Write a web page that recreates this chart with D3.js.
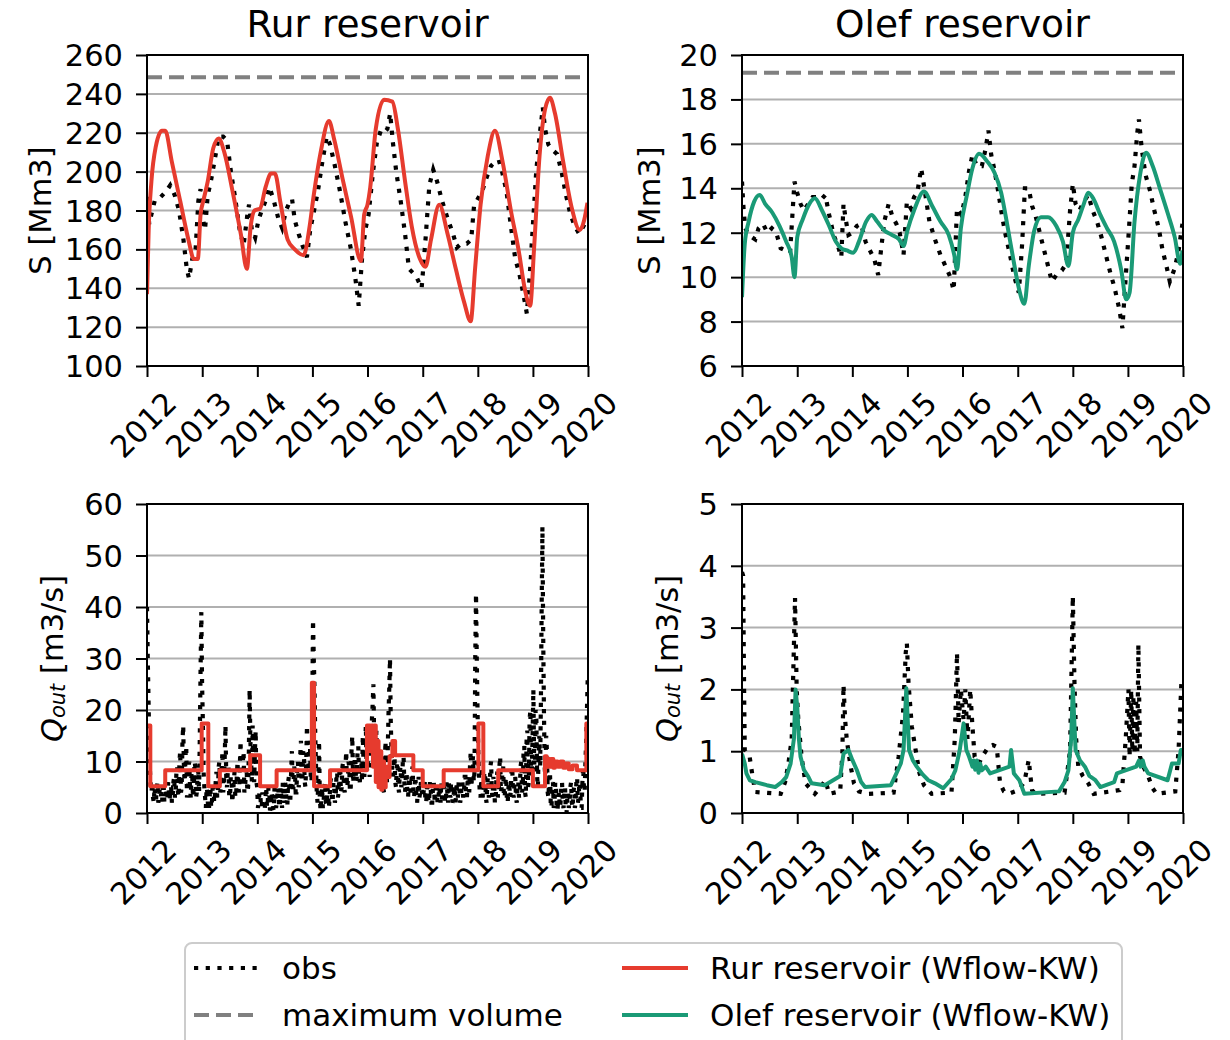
<!DOCTYPE html>
<html>
<head>
<meta charset="utf-8">
<script src="https://cdn.jsdelivr.net/npm/d3@7/dist/d3.min.js"></script>
<style>
  body { margin: 0; background: #fff; }
  svg text { font-family: "DejaVu Sans", sans-serif; fill: #000; }
</style>
</head>
<body>
<div id="chart"></div>
<script>
// ---- data (decimal year, value) ----
const yearTicks = [2012, 2013, 2014, 2015, 2016, 2017, 2018, 2019, 2020];
const rurSTicks = [100, 120, 140, 160, 180, 200, 220, 240, 260];
const olefSTicks = [6, 8, 10, 12, 14, 16, 18, 20];
const rurQTicks = [0, 10, 20, 30, 40, 50, 60];
const olefQTicks = [0, 1, 2, 3, 4, 5];

const rurMaxVolume = 248.5;
const olefMaxVolume = 19.2;

const rurSSim = [
  [2012.00, 137], [2012.03, 170], [2012.08, 195], [2012.16, 213], [2012.27, 221], [2012.33, 221],
  [2012.45, 205], [2012.60, 185], [2012.75, 165], [2012.85, 155], [2012.92, 155], [2012.97, 178],
  [2013.02, 185], [2013.10, 195], [2013.20, 212], [2013.30, 217], [2013.40, 210], [2013.55, 190],
  [2013.70, 168], [2013.81, 150], [2013.88, 172], [2013.95, 180], [2014.05, 181], [2014.15, 192],
  [2014.25, 199], [2014.32, 199], [2014.42, 184], [2014.55, 165], [2014.68, 160], [2014.84, 157],
  [2014.95, 172], [2015.02, 187], [2015.15, 210], [2015.30, 226], [2015.40, 216], [2015.55, 196],
  [2015.70, 177], [2015.88, 154], [2015.94, 178], [2016.00, 183], [2016.05, 192], [2016.15, 222],
  [2016.30, 237], [2016.45, 236], [2016.55, 222], [2016.68, 195], [2016.80, 172], [2016.95, 155],
  [2017.05, 151], [2017.15, 165], [2017.30, 183], [2017.45, 168], [2017.60, 150], [2017.75, 133],
  [2017.87, 123], [2017.95, 150], [2018.05, 183], [2018.18, 208], [2018.31, 221], [2018.45, 205],
  [2018.60, 180], [2018.75, 158], [2018.85, 140], [2018.95, 131], [2019.02, 160], [2019.12, 208],
  [2019.22, 232], [2019.31, 238], [2019.40, 230], [2019.55, 205], [2019.70, 182], [2019.85, 170],
  [2019.93, 175], [2019.99, 184]
];

const rurSObs = [
  [2012.00, 187], [2012.04, 173], [2012.08, 178], [2012.14, 185], [2012.25, 187], [2012.35, 190],
  [2012.42, 193], [2012.50, 188], [2012.58, 180], [2012.66, 165], [2012.72, 150], [2012.76, 145],
  [2012.82, 155], [2012.88, 160], [2012.93, 185], [2012.97, 191], [2013.01, 176], [2013.05, 170],
  [2013.10, 188], [2013.15, 194], [2013.22, 205], [2013.30, 218], [2013.38, 218], [2013.45, 216],
  [2013.52, 200], [2013.60, 186], [2013.68, 170], [2013.75, 162], [2013.82, 178], [2013.85, 183],
  [2013.90, 170], [2013.96, 166], [2014.02, 175], [2014.08, 180], [2014.15, 185], [2014.22, 192],
  [2014.30, 185], [2014.38, 176], [2014.45, 171], [2014.52, 180], [2014.58, 184], [2014.63, 186],
  [2014.68, 175], [2014.75, 168], [2014.82, 162], [2014.90, 156], [2014.96, 170], [2015.03, 180],
  [2015.10, 190], [2015.18, 205], [2015.26, 218], [2015.32, 214], [2015.40, 204], [2015.50, 190],
  [2015.60, 174], [2015.70, 160], [2015.78, 145], [2015.84, 131], [2015.90, 155], [2015.96, 170],
  [2016.02, 178], [2016.10, 200], [2016.17, 215], [2016.24, 221], [2016.30, 220], [2016.36, 222],
  [2016.41, 230], [2016.46, 215], [2016.52, 200], [2016.60, 185], [2016.68, 168], [2016.75, 150],
  [2016.82, 148], [2016.90, 145], [2016.98, 140], [2017.05, 165], [2017.12, 193], [2017.19, 201],
  [2017.26, 195], [2017.35, 185], [2017.45, 176], [2017.55, 168], [2017.62, 161], [2017.70, 163],
  [2017.80, 163], [2017.88, 165], [2017.93, 182], [2018.00, 186], [2018.08, 190], [2018.16, 197],
  [2018.24, 203], [2018.31, 205], [2018.38, 206], [2018.44, 200], [2018.52, 190], [2018.60, 172],
  [2018.68, 155], [2018.75, 148], [2018.82, 138], [2018.89, 127], [2018.95, 150], [2019.01, 177],
  [2019.06, 200], [2019.12, 218], [2019.18, 233], [2019.22, 222], [2019.28, 214], [2019.36, 211],
  [2019.44, 209], [2019.52, 200], [2019.60, 188], [2019.68, 178], [2019.76, 172], [2019.84, 168],
  [2019.92, 172], [2019.99, 176]
];

const olefSSim = [
  [2012.00, 9.1], [2012.05, 11.5], [2012.12, 12.5], [2012.22, 13.4], [2012.32, 13.7], [2012.42, 13.3],
  [2012.55, 12.9], [2012.68, 12.3], [2012.80, 11.6], [2012.90, 10.9], [2012.95, 10.0], [2013.00, 11.8],
  [2013.10, 12.6], [2013.22, 13.3], [2013.32, 13.55], [2013.45, 13.0], [2013.58, 12.3], [2013.70, 11.6],
  [2013.80, 11.3], [2013.90, 11.2], [2014.02, 11.1], [2014.12, 11.6], [2014.25, 12.5], [2014.35, 12.8],
  [2014.45, 12.5], [2014.58, 12.1], [2014.72, 11.9], [2014.85, 11.7], [2014.93, 11.4], [2015.00, 12.1],
  [2015.12, 13.0], [2015.30, 13.85], [2015.45, 13.2], [2015.60, 12.5], [2015.75, 11.9], [2015.85, 11.0],
  [2015.90, 10.35], [2015.97, 12.2], [2016.08, 13.7], [2016.18, 14.9], [2016.30, 15.55], [2016.45, 15.2],
  [2016.58, 14.7], [2016.70, 13.8], [2016.80, 12.5], [2016.92, 10.8], [2017.02, 9.5], [2017.12, 8.8],
  [2017.20, 10.5], [2017.30, 12.1], [2017.42, 12.7], [2017.55, 12.7], [2017.70, 12.3], [2017.82, 11.6],
  [2017.92, 10.5], [2018.00, 12.0], [2018.10, 12.6], [2018.20, 13.3], [2018.28, 13.8], [2018.38, 13.5],
  [2018.50, 12.8], [2018.62, 12.2], [2018.75, 11.6], [2018.88, 10.3], [2018.97, 9.0], [2019.03, 9.3],
  [2019.12, 12.5], [2019.22, 14.6], [2019.33, 15.6], [2019.45, 15.0], [2019.58, 14.0], [2019.72, 12.9],
  [2019.85, 11.8], [2019.95, 10.6], [2019.99, 11.2]
];

const olefSObs = [
  [2012.00, 14.3], [2012.03, 13.0], [2012.06, 12.2], [2012.10, 12.0], [2012.18, 11.8], [2012.24, 11.7],
  [2012.30, 12.2], [2012.38, 12.4], [2012.46, 12.0], [2012.54, 12.2], [2012.62, 12.0], [2012.70, 11.3],
  [2012.78, 11.2], [2012.87, 11.1], [2012.95, 14.3], [2013.00, 13.8], [2013.06, 13.3], [2013.12, 13.0],
  [2013.20, 13.3], [2013.28, 13.6], [2013.36, 13.6], [2013.44, 13.5], [2013.51, 13.7], [2013.58, 12.8],
  [2013.66, 11.9], [2013.74, 11.4], [2013.80, 10.9], [2013.84, 13.3], [2013.88, 12.6], [2013.93, 11.9],
  [2014.00, 12.0], [2014.08, 12.3], [2014.16, 12.4], [2014.24, 11.6], [2014.32, 11.2], [2014.40, 10.8],
  [2014.47, 10.1], [2014.52, 11.2], [2014.58, 12.5], [2014.66, 13.3], [2014.73, 12.7], [2014.80, 12.4],
  [2014.86, 12.0], [2014.93, 11.0], [2014.99, 13.4], [2015.06, 13.1], [2015.12, 13.6], [2015.18, 13.8],
  [2015.25, 14.9], [2015.32, 13.8], [2015.40, 12.5], [2015.50, 11.7], [2015.60, 11.0], [2015.69, 10.5],
  [2015.78, 10.0], [2015.84, 9.4], [2015.90, 13.1], [2015.98, 12.8], [2016.05, 13.6], [2016.12, 14.8],
  [2016.18, 15.5], [2016.26, 15.0], [2016.35, 15.0], [2016.42, 15.8], [2016.47, 16.6], [2016.52, 15.5],
  [2016.58, 14.8], [2016.65, 13.8], [2016.72, 12.7], [2016.78, 11.9], [2016.86, 11.0], [2016.94, 10.0],
  [2017.02, 9.3], [2017.08, 11.5], [2017.13, 14.0], [2017.20, 14.0], [2017.26, 13.2], [2017.32, 12.8],
  [2017.40, 12.0], [2017.48, 11.2], [2017.55, 10.5], [2017.62, 9.8], [2017.70, 10.1], [2017.80, 10.3],
  [2017.88, 10.6], [2017.95, 13.0], [2018.00, 14.2], [2018.05, 13.3], [2018.12, 13.0], [2018.20, 13.4],
  [2018.28, 13.7], [2018.36, 13.0], [2018.44, 12.5], [2018.52, 11.8], [2018.60, 11.0], [2018.68, 10.2],
  [2018.76, 9.5], [2018.84, 8.6], [2018.90, 7.7], [2018.96, 10.0], [2019.02, 12.2], [2019.07, 14.2],
  [2019.12, 15.0], [2019.17, 16.5], [2019.20, 17.1], [2019.25, 15.8], [2019.32, 14.6], [2019.40, 13.9],
  [2019.48, 13.0], [2019.56, 12.2], [2019.63, 11.2], [2019.70, 10.5], [2019.76, 9.8], [2019.85, 10.4],
  [2019.92, 11.2], [2019.99, 12.4]
];

// Rur outflow obs: one value every 5 days starting 2012-01-01
const rurQObsStart = "2012-01-01";
const rurQObsStepDays = 5;
const rurQObs = [
  // 2012
  40, 30, 22, 14, 8, 5, 4, 6, 3, 2, 5, 3, 2.5, 5, 6, 2, 3, 5, 4.5, 3,
  2, 6, 5.5, 2, 3, 6, 4, 2.5, 6, 4, 2.5, 5, 5, 2, 3, 6, 7, 3, 4, 8,
  9, 4, 3, 10, 12, 4, 5, 14, 17, 8, 6, 11, 13, 3, 4, 9, 10, 5, 3, 8,
  7, 3, 5, 10, 9, 3, 4, 7, 8, 4, 15, 28, 39,
  // 2013
  25, 18, 8, 5, 3, 1, 5, 4, 1, 0.5, 3, 5, 1, 2, 5, 6, 2, 3, 6, 8,
  3, 4, 9, 10, 4, 5, 9, 12, 4, 6, 11, 17, 7, 5, 8, 9, 3, 3, 7, 7,
  2, 4, 6, 8, 3, 3, 7, 10, 5, 4, 9, 14, 5, 6, 10, 12, 4, 5, 8, 9,
  4, 5, 12, 24, 14, 10, 6, 17, 8, 6, 12, 16, 6,
  // 2014
  5, 1, 2, 4, 4, 1.5, 1, 4, 3, 0.5, 0.5, 3, 5, 1, 2, 5, 4, 0.5, 1, 4,
  3, 1, 0.5, 5, 4, 1, 2, 4, 5, 1.5, 1, 5, 3, 1, 6, 3, 2, 6, 5, 2,
  1.5, 6, 7, 3, 3, 8, 12, 5, 5, 9, 8, 4, 4, 9, 10, 5, 6, 11, 14, 6,
  7, 12, 11, 6, 5, 10, 17, 9, 8, 14, 13, 7, 6, 20,
  // 2015
  37.5, 30, 24, 15, 9, 4, 2, 6, 14, 3, 0.5, 3, 5, 1, 2, 5, 6, 2, 1.5, 5,
  4, 1, 3, 6, 7, 3, 2, 6, 5, 2, 3, 7, 8, 3, 4, 8, 9, 4, 5, 9,
  10, 5, 4, 9, 12, 5, 6, 10, 9, 4, 5, 12, 15, 7, 6, 10, 11, 6, 7, 12,
  13, 7, 6, 9, 10, 6, 15, 9, 7, 13, 17, 9, 8,
  // 2016
  11, 14, 7, 9, 13, 18, 21, 25, 15, 10, 12, 16, 9, 7, 11, 12, 6, 5, 9, 11,
  5, 4, 8, 14, 9, 6, 12, 19, 24, 30, 18, 12, 8, 7, 10, 11, 6, 5, 9, 10,
  5, 4, 8, 9, 5, 6, 10, 11, 6, 4, 7, 8, 4, 3, 6, 7, 4, 5, 8, 9,
  4, 3, 6, 6, 3, 2, 5, 7, 3, 4, 6, 5, 3,
  // 2017
  3, 5, 6, 2, 2, 5, 5, 2, 3, 6, 4.5, 2, 2, 5, 6, 3, 3, 6, 5, 2,
  2, 5, 4, 2, 6, 3, 3, 5, 5, 2, 2, 6, 4, 2, 6, 4, 3, 6, 5, 2,
  2.5, 5, 4, 2, 6, 4, 3, 6, 5, 2, 3, 6, 6, 3, 4, 7, 7, 3, 3, 7,
  6, 4, 9, 12, 5, 9, 11, 6, 8, 30, 42.6,
  // 2018
  30, 20, 12, 7, 4, 3, 7, 9, 3, 4, 8, 8, 3, 2, 6, 7, 3, 4, 9, 10,
  4, 3, 7, 6, 2, 2, 7, 8, 3, 4, 9, 11, 4, 5, 8, 9, 3, 3, 6, 7,
  2, 2, 5, 6, 3, 4, 8, 9, 4, 3, 6, 7, 3, 2, 5, 6, 3, 4, 9, 10,
  4, 5, 12, 13, 4, 3, 14, 16, 5, 6, 18, 20, 8, 9,
  // 2019
  15, 24, 10, 8, 20, 18, 7, 5, 12, 15, 9, 22, 40, 55.6, 35, 20, 9, 6, 15, 12,
  4, 3, 7, 8, 2, 1, 5, 6, 1, 2, 6, 5, 1, 0.5, 3, 4, 1, 2, 5, 6,
  1.5, 1, 4, 5, 0.5, 0, 3, 4, 1, 2, 5, 6, 2, 1, 4, 5, 1, 2, 6, 7,
  2, 3, 6, 5, 1, 1, 6, 9, 5, 4, 10, 14, 20, 26
];

// Rur outflow model: value holds until next change point
const rurQSim = [
  [2012.00, 17], [2012.06, 5.2], [2012.33, 8.3], [2012.99, 17.4], [2013.11, 5.2], [2013.32, 8.3],
  [2013.87, 11.2], [2014.05, 5.2], [2014.35, 8.3], [2014.99, 25.3], [2015.03, 5.2], [2015.32, 8.3],
  [2015.99, 17], [2016.05, 12], [2016.07, 17], [2016.10, 9], [2016.12, 17], [2016.15, 6],
  [2016.17, 14], [2016.20, 5], [2016.22, 12], [2016.25, 4.5], [2016.27, 10], [2016.30, 5],
  [2016.33, 9], [2016.36, 7], [2016.40, 11], [2016.45, 14], [2016.50, 11.2], [2016.83, 8.3],
  [2017.00, 5.2], [2017.38, 8.3], [2018.01, 17.4], [2018.10, 5.2], [2018.37, 8.3], [2019.00, 5.2],
  [2019.22, 11], [2019.25, 9], [2019.28, 10.5], [2019.31, 9], [2019.34, 10.5], [2019.37, 8.8],
  [2019.40, 10], [2019.45, 9], [2019.50, 10], [2019.55, 8.8], [2019.60, 9.6], [2019.65, 8.5],
  [2019.72, 9.2], [2019.80, 8.3], [2019.97, 17.4], [2019.999, 17.4]
];

const olefQSim = [
  [2012.00, 0.96], [2012.05, 0.8], [2012.08, 0.64], [2012.14, 0.53], [2012.24, 0.5], [2012.45, 0.45],
  [2012.60, 0.42], [2012.72, 0.5], [2012.80, 0.58], [2012.88, 0.8], [2012.94, 1.2], [2012.97, 2.0],
  [2013.00, 1.72], [2013.03, 1.2], [2013.06, 0.91], [2013.12, 0.7], [2013.20, 0.59], [2013.26, 0.48],
  [2013.50, 0.45], [2013.78, 0.6], [2013.84, 0.96], [2013.93, 1.02], [2014.00, 0.86], [2014.08, 0.7],
  [2014.16, 0.5], [2014.23, 0.42], [2014.70, 0.45], [2014.80, 0.64], [2014.88, 0.8], [2014.93, 1.02],
  [2014.98, 2.02], [2015.03, 1.02], [2015.10, 0.85], [2015.17, 0.75], [2015.28, 0.62], [2015.38, 0.53],
  [2015.50, 0.48], [2015.65, 0.4], [2015.80, 0.55], [2015.87, 0.69], [2015.95, 1.02], [2016.02, 1.45],
  [2016.07, 1.02], [2016.12, 0.91], [2016.18, 0.75], [2016.20, 0.85], [2016.23, 0.7], [2016.26, 0.85],
  [2016.29, 0.65], [2016.32, 0.8], [2016.35, 0.69], [2016.42, 0.75], [2016.50, 0.64], [2016.85, 0.75],
  [2016.88, 1.02], [2016.93, 0.64], [2017.03, 0.53], [2017.12, 0.31], [2017.75, 0.35], [2017.85, 0.5],
  [2017.92, 0.69], [2017.97, 1.2], [2018.00, 2.02], [2018.05, 1.02], [2018.13, 0.85], [2018.22, 0.75],
  [2018.30, 0.6], [2018.41, 0.53], [2018.50, 0.42], [2018.75, 0.5], [2018.80, 0.64], [2019.15, 0.75],
  [2019.20, 0.85], [2019.23, 0.75], [2019.27, 0.85], [2019.30, 0.75], [2019.37, 0.64], [2019.72, 0.53],
  [2019.80, 0.8], [2019.92, 0.8], [2019.96, 1.02], [2019.99, 1.02]
];

const olefQObs = [
  [2012.00, 3.9], [2012.02, 3.84], [2012.04, 1.8], [2012.05, 1.02], [2012.10, 0.95], [2012.14, 0.9],
  [2012.19, 0.6], [2012.24, 0.34], [2012.70, 0.31], [2012.78, 0.5], [2012.84, 0.8], [2012.90, 1.2],
  [2012.96, 3.48], [2012.99, 2.0], [2013.02, 1.5], [2013.08, 0.9], [2013.15, 0.48], [2013.32, 0.31],
  [2013.45, 0.45], [2013.51, 0.53], [2013.58, 0.31], [2013.78, 0.35], [2013.82, 1.0], [2013.84, 2.07],
  [2013.87, 1.5], [2013.90, 1.18], [2013.96, 0.8], [2014.03, 0.48], [2014.12, 0.35], [2014.29, 0.31],
  [2014.75, 0.33], [2014.84, 0.91], [2014.92, 1.6], [2014.97, 2.6], [2014.99, 2.75], [2015.02, 2.1],
  [2015.08, 1.4], [2015.14, 1.07], [2015.22, 0.64], [2015.30, 0.45], [2015.44, 0.31], [2015.80, 0.33],
  [2015.86, 1.2], [2015.90, 2.59], [2015.93, 1.45], [2015.97, 2.0], [2016.02, 1.5], [2016.05, 2.0],
  [2016.09, 1.2], [2016.14, 2.0], [2016.18, 1.4], [2016.22, 0.91], [2016.30, 0.8], [2016.35, 0.91],
  [2016.42, 1.0], [2016.47, 1.07], [2016.55, 1.1], [2016.62, 1.07], [2016.68, 0.48], [2016.75, 0.35],
  [2016.83, 0.31], [2017.01, 0.37], [2017.12, 0.5], [2017.20, 0.86], [2017.23, 0.6], [2017.26, 0.37],
  [2017.32, 0.31], [2017.85, 0.33], [2017.92, 0.8], [2017.95, 1.02], [2017.98, 2.5], [2018.00, 3.51],
  [2018.03, 2.1], [2018.06, 1.2], [2018.10, 0.75], [2018.18, 0.6], [2018.28, 0.48], [2018.38, 0.31],
  [2018.85, 0.37], [2018.90, 0.45], [2018.96, 1.2], [2019.01, 2.0], [2019.03, 0.91], [2019.06, 2.0],
  [2019.08, 1.0], [2019.10, 1.9], [2019.12, 0.95], [2019.15, 1.8], [2019.17, 1.0], [2019.19, 2.73],
  [2019.22, 0.91], [2019.28, 0.75], [2019.37, 0.59], [2019.45, 0.4], [2019.52, 0.31], [2019.86, 0.35],
  [2019.92, 1.02], [2019.97, 2.1], [2019.99, 2.1]
];

const rurColor = "#e63b2e";
const olefColor = "#1a9a76";
const maxColor = "#808080";

const tickFont = 30.5;
const titleFont = 37.5;
const legendFont = 31;

function toDate(y) {
  let yr = Math.floor(y);
  let a = Date.UTC(yr, 0, 1), b = Date.UTC(yr + 1, 0, 1);
  return new Date(a + (y - yr) * (b - a));
}

function pairs(list) {
  return list.map(d => ({ date: toDate(d[0]), value: d[1] }));
}

function regular(start, step, values) {
  let t0 = new Date(start + "T00:00:00Z").getTime();
  return values.map((v, i) => ({ date: new Date(t0 + i * step * 86400000), value: v }));
}

class Painel {
  constructor(svg, config) {
    this.svg = svg;
    this.config = config;
    this.g = svg.append("g");
    this.xScale = null;
    this.yScale = null;
    this.createScales();
    this.createClip();
  }

  createScales() {
    let c = this.config;
    this.xScale = d3.scaleUtc()
      .domain([toDate(yearTicks[0]), toDate(yearTicks[yearTicks.length - 1])])
      .range([c.left, c.right]);
    this.yScale = d3.scaleLinear().domain(c.yDomain).range([c.bottom, c.top]);
  }

  createClip() {
    let c = this.config;
    this.svg.append("clipPath").attr("id", c.id + "-clip")
      .append("rect")
      .attr("x", c.left).attr("y", c.top)
      .attr("width", c.right - c.left).attr("height", c.bottom - c.top);
  }

  renderGrid() {
    let c = this.config;
    this.g.append("g")
      .selectAll("line")
      .data(c.yTicks)
      .enter()
      .append("line")
      .attr("x1", c.left).attr("x2", c.right)
      .attr("y1", d => this.yScale(d)).attr("y2", d => this.yScale(d))
      .attr("stroke", "#b0b0b0")
      .attr("stroke-width", 2);
  }

  renderLines() {
    let c = this.config;
    let plot = this.g.append("g").attr("clip-path", `url(#${c.id}-clip)`);

    if (c.maxVolume != null) {
      plot.append("line")
        .attr("x1", c.left).attr("x2", c.right)
        .attr("y1", this.yScale(c.maxVolume)).attr("y2", this.yScale(c.maxVolume))
        .attr("stroke", maxColor)
        .attr("stroke-width", 4)
        .attr("stroke-dasharray", "15,7");
    }

    let line = d3.line()
      .x(d => this.xScale(d.date))
      .y(d => this.yScale(d.value));

    plot.append("path")
      .datum(c.obs)
      .attr("d", line)
      .attr("fill", "none")
      .attr("stroke", "#000")
      .attr("stroke-width", 4.2)
      .attr("stroke-dasharray", "4.2,7.5");

    plot.append("path")
      .datum(c.sim)
      .attr("d", line.curve(c.curve))
      .attr("fill", "none")
      .attr("stroke", c.color)
      .attr("stroke-width", 4)
      .attr("stroke-linejoin", "round");
  }

  createAxis() {
    let c = this.config;
    let xAxis = d3.axisBottom(this.xScale)
      .tickValues(yearTicks.map(toDate))
      .tickFormat(d3.utcFormat("%Y"))
      .tickSize(11);

    let xg = this.g.append("g")
      .attr("transform", `translate(0,${c.bottom})`)
      .call(xAxis);
    xg.select(".domain").remove();
    xg.selectAll(".tick line").attr("stroke", "#000").attr("stroke-width", 2);
    xg.selectAll(".tick text")
      .attr("y", null).attr("dy", null)
      .attr("font-size", tickFont)
      .attr("font-family", "DejaVu Sans")
      .attr("text-anchor", "middle")
      .attr("dominant-baseline", "central")
      .attr("transform", "translate(-4,59) rotate(-45)");

    let yAxis = d3.axisLeft(this.yScale)
      .tickValues(c.yTicks)
      .tickFormat(d => d)
      .tickSize(11)
      .tickPadding(13);

    let yg = this.g.append("g")
      .attr("transform", `translate(${c.left},0)`)
      .call(yAxis);
    yg.select(".domain").remove();
    yg.selectAll(".tick line").attr("stroke", "#000").attr("stroke-width", 2);
    yg.selectAll(".tick text")
      .attr("dy", null)
      .attr("dominant-baseline", "central")
      .attr("font-size", tickFont)
      .attr("font-family", "DejaVu Sans");

    // frame
    this.g.append("rect")
      .attr("x", c.left).attr("y", c.top)
      .attr("width", c.right - c.left).attr("height", c.bottom - c.top)
      .attr("fill", "none")
      .attr("stroke", "#000")
      .attr("stroke-width", 2);
  }

  renderLabels() {
    let c = this.config;
    if (c.title) {
      this.g.append("text")
        .attr("x", (c.left + c.right) / 2)
        .attr("y", c.top - 18)
        .attr("text-anchor", "middle")
        .attr("font-size", titleFont)
        .text(c.title);
    }

    let lab = this.g.append("text")
      .attr("text-anchor", "middle")
      .attr("dominant-baseline", "central")
      .attr("font-size", tickFont)
      .attr("transform", `translate(${c.labelX},${(c.top + c.bottom) / 2}) rotate(-90)`);

    if (c.ylabel === "Q") {
      lab.append("tspan").attr("font-style", "italic").text("Q");
      lab.append("tspan").attr("font-style", "italic").attr("font-size", 21).attr("dy", 6).text("out");
      lab.append("tspan").attr("dy", -6).text(" [m3/s]");
    } else {
      lab.text(c.ylabel);
    }
  }

  render() {
    this.renderGrid();
    this.renderLines();
    this.createAxis();
    this.renderLabels();
  }
}

function renderLegend(svg) {
  let box = svg.append("g");
  box.append("rect")
    .attr("x", 185).attr("y", 943)
    .attr("width", 937).attr("height", 130)
    .attr("rx", 7)
    .attr("fill", "#fff")
    .attr("stroke", "#cccccc")
    .attr("stroke-width", 2);

  let items = [
    { x: 194, y: 968, label: "obs", stroke: "#000", dash: "4.2,7.5" },
    { x: 194, y: 1015, label: "maximum volume", stroke: maxColor, dash: "15,7" },
    { x: 622, y: 968, label: "Rur reservoir (Wflow-KW)", stroke: rurColor, dash: null },
    { x: 622, y: 1015, label: "Olef reservoir (Wflow-KW)", stroke: olefColor, dash: null }
  ];

  let g = box.selectAll("g.item").data(items).enter().append("g").attr("class", "item");
  g.append("line")
    .attr("x1", d => d.x).attr("x2", d => d.x + 66)
    .attr("y1", d => d.y).attr("y2", d => d.y)
    .attr("stroke", d => d.stroke)
    .attr("stroke-width", 4)
    .attr("stroke-dasharray", d => d.dash);
  g.append("text")
    .attr("x", d => d.x + 88)
    .attr("y", d => d.y)
    .attr("dominant-baseline", "central")
    .attr("font-size", legendFont)
    .text(d => d.label);
}

function main() {
  let svg = d3.select("#chart")
    .append("svg")
    .attr("width", 1230)
    .attr("height", 1040);

  let panels = [
    { id: "rurS", left: 147, right: 588, top: 55, bottom: 366, yDomain: [100, 260], yTicks: rurSTicks,
      title: "Rur reservoir", ylabel: "S [Mm3]", labelX: 40, maxVolume: rurMaxVolume,
      obs: pairs(rurSObs), sim: pairs(rurSSim), color: rurColor, curve: d3.curveMonotoneX },
    { id: "olefS", left: 742, right: 1183, top: 55, bottom: 366, yDomain: [6, 20], yTicks: olefSTicks,
      title: "Olef reservoir", ylabel: "S [Mm3]", labelX: 649, maxVolume: olefMaxVolume,
      obs: pairs(olefSObs), sim: pairs(olefSSim), color: olefColor, curve: d3.curveMonotoneX },
    { id: "rurQ", left: 147, right: 588, top: 504, bottom: 813, yDomain: [0, 60], yTicks: rurQTicks,
      title: null, ylabel: "Q", labelX: 52, maxVolume: null,
      obs: regular(rurQObsStart, rurQObsStepDays, rurQObs), sim: pairs(rurQSim), color: rurColor, curve: d3.curveStepAfter },
    { id: "olefQ", left: 742, right: 1183, top: 504, bottom: 813, yDomain: [0, 5], yTicks: olefQTicks,
      title: null, ylabel: "Q", labelX: 667, maxVolume: null,
      obs: pairs(olefQObs), sim: pairs(olefQSim), color: olefColor, curve: d3.curveLinear }
  ];

  panels.forEach(p => new Painel(svg, p).render());
  renderLegend(svg);
}

main();
</script>
</body>
</html>
